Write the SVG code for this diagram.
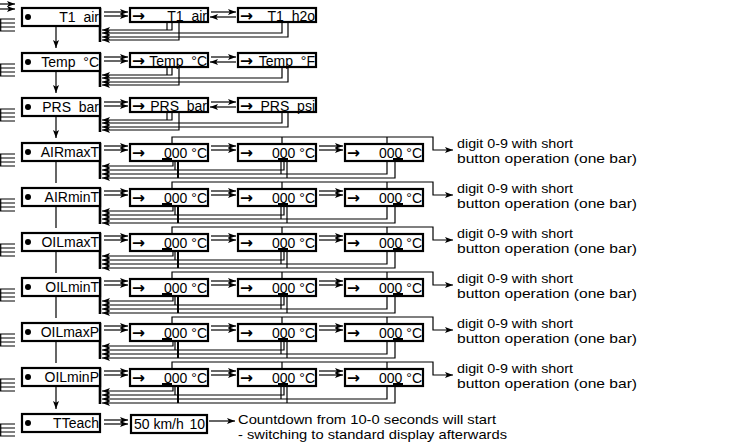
<svg xmlns="http://www.w3.org/2000/svg" width="750" height="445" viewBox="0 0 750 445" xml:space="preserve">
<style>
.bx{fill:#fff;stroke:#000;stroke-width:2.2}
.t{font-family:"Liberation Sans",Arial,sans-serif;font-size:14px;fill:#000;white-space:pre}
.n{font-family:"Liberation Sans",Arial,sans-serif;font-size:13px;fill:#000}
.e{text-anchor:end}
.ar{font-family:"DejaVu Sans",sans-serif;font-size:15.5px;font-weight:bold;fill:#000}
.c{fill:none;stroke:#000;stroke-width:1.2}
.ce{marker-end:url(#ah)}
.thk{stroke-width:2.6}
.bar{fill:#000}
</style>
<defs>
<marker id="ah" viewBox="0 0 8 6" refX="8" refY="3" markerWidth="8" markerHeight="6" markerUnits="userSpaceOnUse" orient="auto"><path d="M0,0L8,3L0,6L1.8,3z" fill="#000"/></marker>
<g id="lft"><path class="c" d="M0.7,11V23M0,11H15M0,15H15M0,19H15M0,23H15"/></g>
<g id="conA">
<path class="c ce" d="M104,4H128"/><path class="c ce" d="M104,8H128"/>
<path class="c ce" d="M211,4H236"/><path class="c ce" d="M236,9H210"/>
<path class="c thk" d="M100,0V34"/>
<path class="c ce" d="M172,14V22H102"/><path class="c" d="M167,14V22"/>
<path class="c ce" d="M282,14V25H102"/>
<path class="c ce" d="M288,14V29H102"/>
<path class="c ce" d="M179,14V32H102"/>
<path class="c ce" d="M56,19V40"/>
</g>
<g id="conB">
<path class="c ce" d="M104,3H128"/><path class="c ce" d="M104,7H128"/>
<path class="c ce" d="M211,3H236"/><path class="c ce" d="M211,7H236"/>
<path class="c ce" d="M319,3H343"/><path class="c ce" d="M319,7H343"/>
<path class="c ce" d="M172,1V-6H433V7H453"/><path class="c" d="M282,-6V1M387,-6V1"/>
<path class="c thk" d="M100,0V36"/>
<path class="c ce" d="M173,18V23H102"/>
<path class="c ce" d="M284,18V27H102"/>
<path class="c ce" d="M387,18V31H102"/>
<path class="c ce" d="M395,18V35H102"/>
<path class="c" d="M175,18V27M281,18V31M287,18V35"/>
<path class="c" style="stroke-width:2" d="M178,18V35"/>
</g>
</defs>
<rect width="750" height="445" fill="#fff"/>

<g id="connectors">
<path class="c ce" d="M0,4H15"/><path class="c ce" d="M0,9H15"/>
<use href="#lft" y="8"/><use href="#lft" y="53"/><use href="#lft" y="98"/><use href="#lft" y="143"/><use href="#lft" y="188"/>
<use href="#lft" y="233"/><use href="#lft" y="278"/><use href="#lft" y="323"/><use href="#lft" y="368"/><use href="#lft" y="413"/>
<use href="#conA" y="8"/><use href="#conA" y="53"/><use href="#conA" y="98"/>
<use href="#conB" y="143"/><use href="#conB" y="188"/><use href="#conB" y="233"/><use href="#conB" y="278"/><use href="#conB" y="323"/><use href="#conB" y="368"/>
<path class="c ce" d="M56,162V183M56,207V228M56,252V273M56,297V318M56,342V363M56,387V409"/>
<path class="c ce" d="M104,420H128"/><path class="c ce" d="M104,424H128"/>
<path class="c ce" d="M209,421H235"/>
</g>

<!-- row 1 -->
<g id="n-t1air" transform="translate(0,8)"><rect class="bx" x="22" y="0" width="78" height="18"/><circle cx="28" cy="9" r="3"/><text class="t e" x="99" y="14">T1  air</text></g>
<g id="n-t1air-sel" transform="translate(0,8)"><rect class="bx" x="130" y="0" width="78" height="14"/><text class="ar" x="132" y="12.5">→</text><text class="t e" x="207" y="12.5">T1  air</text></g>
<g id="n-t1h2o" transform="translate(0,8)"><rect class="bx" x="238" y="0" width="78" height="14"/><text class="ar" x="240" y="12.5">→</text><text class="t e" x="315" y="12.5">T1  h2o</text></g>
<!-- row 2 -->
<g id="n-temp" transform="translate(0,53)"><rect class="bx" x="22" y="0" width="78" height="18"/><circle cx="28" cy="9" r="3"/><text class="t e" x="99" y="14">Temp  °C</text></g>
<g id="n-temp-c" transform="translate(0,53)"><rect class="bx" x="130" y="0" width="78" height="14"/><text class="ar" x="132" y="12.5">→</text><text class="t e" x="207" y="12.5">Temp  °C</text></g>
<g id="n-temp-f" transform="translate(0,53)"><rect class="bx" x="238" y="0" width="78" height="14"/><text class="ar" x="240" y="12.5">→</text><text class="t e" x="315" y="12.5">Temp  °F</text></g>
<!-- row 3 -->
<g id="n-prs" transform="translate(0,98)"><rect class="bx" x="22" y="0" width="78" height="18"/><circle cx="28" cy="9" r="3"/><text class="t e" x="99" y="14">PRS  bar</text></g>
<g id="n-prs-bar" transform="translate(0,98)"><rect class="bx" x="130" y="0" width="78" height="14"/><text class="ar" x="132" y="12.5">→</text><text class="t e" x="207" y="12.5">PRS  bar</text></g>
<g id="n-prs-psi" transform="translate(0,98)"><rect class="bx" x="238" y="0" width="78" height="14"/><text class="ar" x="240" y="12.5">→</text><text class="t e" x="315" y="12.5">PRS  psi</text></g>

<!-- digit rows -->
<g id="n-airmaxt" transform="translate(0,143)"><rect class="bx" x="22" y="0" width="78" height="18"/><circle cx="28" cy="9" r="3"/><text class="t e" x="99" y="14">AIRmaxT</text></g>
<g id="n-airmaxt-d" transform="translate(0,143)">
<rect class="bx" x="130" y="1" width="78" height="17"/><text class="ar" x="132" y="15">→</text><text class="t e" x="207" y="15">000 °C</text><rect class="bar" x="162" y="15" width="10" height="3.5"/>
<rect class="bx" x="238" y="1" width="78" height="17"/><text class="ar" x="240" y="15">→</text><text class="t e" x="315" y="15">000 °C</text><rect class="bar" x="278" y="15" width="10" height="3.5"/>
<rect class="bx" x="345" y="1" width="78" height="17"/><text class="ar" x="347" y="15">→</text><text class="t e" x="422" y="15">000 °C</text><rect class="bar" x="393" y="15" width="10" height="3.5"/>
<text class="n" x="457" y="5" textLength="116" lengthAdjust="spacingAndGlyphs">digit 0-9 with short</text><text class="n" x="457" y="20" textLength="180" lengthAdjust="spacingAndGlyphs">button operation (one bar)</text></g>

<g id="n-airmint" transform="translate(0,188)"><rect class="bx" x="22" y="0" width="78" height="18"/><circle cx="28" cy="9" r="3"/><text class="t e" x="99" y="14">AIRminT</text></g>
<g id="n-airmint-d" transform="translate(0,188)">
<rect class="bx" x="130" y="1" width="78" height="17"/><text class="ar" x="132" y="15">→</text><text class="t e" x="207" y="15">000 °C</text><rect class="bar" x="162" y="15" width="10" height="3.5"/>
<rect class="bx" x="238" y="1" width="78" height="17"/><text class="ar" x="240" y="15">→</text><text class="t e" x="315" y="15">000 °C</text><rect class="bar" x="278" y="15" width="10" height="3.5"/>
<rect class="bx" x="345" y="1" width="78" height="17"/><text class="ar" x="347" y="15">→</text><text class="t e" x="422" y="15">000 °C</text><rect class="bar" x="393" y="15" width="10" height="3.5"/>
<text class="n" x="457" y="5" textLength="116" lengthAdjust="spacingAndGlyphs">digit 0-9 with short</text><text class="n" x="457" y="20" textLength="180" lengthAdjust="spacingAndGlyphs">button operation (one bar)</text></g>

<g id="n-oilmaxt" transform="translate(0,233)"><rect class="bx" x="22" y="0" width="78" height="18"/><circle cx="28" cy="9" r="3"/><text class="t e" x="99" y="14">OILmaxT</text></g>
<g id="n-oilmaxt-d" transform="translate(0,233)">
<rect class="bx" x="130" y="1" width="78" height="17"/><text class="ar" x="132" y="15">→</text><text class="t e" x="207" y="15">000 °C</text><rect class="bar" x="162" y="15" width="10" height="3.5"/>
<rect class="bx" x="238" y="1" width="78" height="17"/><text class="ar" x="240" y="15">→</text><text class="t e" x="315" y="15">000 °C</text><rect class="bar" x="278" y="15" width="10" height="3.5"/>
<rect class="bx" x="345" y="1" width="78" height="17"/><text class="ar" x="347" y="15">→</text><text class="t e" x="422" y="15">000 °C</text><rect class="bar" x="393" y="15" width="10" height="3.5"/>
<text class="n" x="457" y="5" textLength="116" lengthAdjust="spacingAndGlyphs">digit 0-9 with short</text><text class="n" x="457" y="20" textLength="180" lengthAdjust="spacingAndGlyphs">button operation (one bar)</text></g>

<g id="n-oilmint" transform="translate(0,278)"><rect class="bx" x="22" y="0" width="78" height="18"/><circle cx="28" cy="9" r="3"/><text class="t e" x="99" y="14">OILminT</text></g>
<g id="n-oilmint-d" transform="translate(0,278)">
<rect class="bx" x="130" y="1" width="78" height="17"/><text class="ar" x="132" y="15">→</text><text class="t e" x="207" y="15">000 °C</text><rect class="bar" x="162" y="15" width="10" height="3.5"/>
<rect class="bx" x="238" y="1" width="78" height="17"/><text class="ar" x="240" y="15">→</text><text class="t e" x="315" y="15">000 °C</text><rect class="bar" x="278" y="15" width="10" height="3.5"/>
<rect class="bx" x="345" y="1" width="78" height="17"/><text class="ar" x="347" y="15">→</text><text class="t e" x="422" y="15">000 °C</text><rect class="bar" x="393" y="15" width="10" height="3.5"/>
<text class="n" x="457" y="5" textLength="116" lengthAdjust="spacingAndGlyphs">digit 0-9 with short</text><text class="n" x="457" y="20" textLength="180" lengthAdjust="spacingAndGlyphs">button operation (one bar)</text></g>

<g id="n-oilmaxp" transform="translate(0,323)"><rect class="bx" x="22" y="0" width="78" height="18"/><circle cx="28" cy="9" r="3"/><text class="t e" x="99" y="14">OILmaxP</text></g>
<g id="n-oilmaxp-d" transform="translate(0,323)">
<rect class="bx" x="130" y="1" width="78" height="17"/><text class="ar" x="132" y="15">→</text><text class="t e" x="207" y="15">000 °C</text><rect class="bar" x="162" y="15" width="10" height="3.5"/>
<rect class="bx" x="238" y="1" width="78" height="17"/><text class="ar" x="240" y="15">→</text><text class="t e" x="315" y="15">000 °C</text><rect class="bar" x="278" y="15" width="10" height="3.5"/>
<rect class="bx" x="345" y="1" width="78" height="17"/><text class="ar" x="347" y="15">→</text><text class="t e" x="422" y="15">000 °C</text><rect class="bar" x="393" y="15" width="10" height="3.5"/>
<text class="n" x="457" y="5" textLength="116" lengthAdjust="spacingAndGlyphs">digit 0-9 with short</text><text class="n" x="457" y="20" textLength="180" lengthAdjust="spacingAndGlyphs">button operation (one bar)</text></g>

<g id="n-oilminp" transform="translate(0,368)"><rect class="bx" x="22" y="0" width="78" height="18"/><circle cx="28" cy="9" r="3"/><text class="t e" x="99" y="14">OILminP</text></g>
<g id="n-oilminp-d" transform="translate(0,368)">
<rect class="bx" x="130" y="1" width="78" height="17"/><text class="ar" x="132" y="15">→</text><text class="t e" x="207" y="15">000 °C</text><rect class="bar" x="162" y="15" width="10" height="3.5"/>
<rect class="bx" x="238" y="1" width="78" height="17"/><text class="ar" x="240" y="15">→</text><text class="t e" x="315" y="15">000 °C</text><rect class="bar" x="278" y="15" width="10" height="3.5"/>
<rect class="bx" x="345" y="1" width="78" height="17"/><text class="ar" x="347" y="15">→</text><text class="t e" x="422" y="15">000 °C</text><rect class="bar" x="393" y="15" width="10" height="3.5"/>
<text class="n" x="457" y="5" textLength="116" lengthAdjust="spacingAndGlyphs">digit 0-9 with short</text><text class="n" x="457" y="20" textLength="180" lengthAdjust="spacingAndGlyphs">button operation (one bar)</text></g>

<!-- row 10 -->
<g id="n-tteach" transform="translate(0,414)"><rect class="bx" x="22" y="0" width="78" height="18"/><circle cx="28" cy="9" r="3"/><text class="t e" x="99" y="14">TTeach</text></g>
<g id="n-tteach-cd" transform="translate(0,414)"><rect class="bx" x="131" y="1" width="76" height="18"/><text class="t" x="134" y="15">50 km/h</text><text class="t e" x="205" y="15">10</text>
<text class="n" x="238" y="10" textLength="258" lengthAdjust="spacingAndGlyphs">Countdown from 10-0 seconds will start</text><text class="n" x="238" y="25" textLength="269" lengthAdjust="spacingAndGlyphs">- switching to standard display afterwards</text></g>
</svg>
